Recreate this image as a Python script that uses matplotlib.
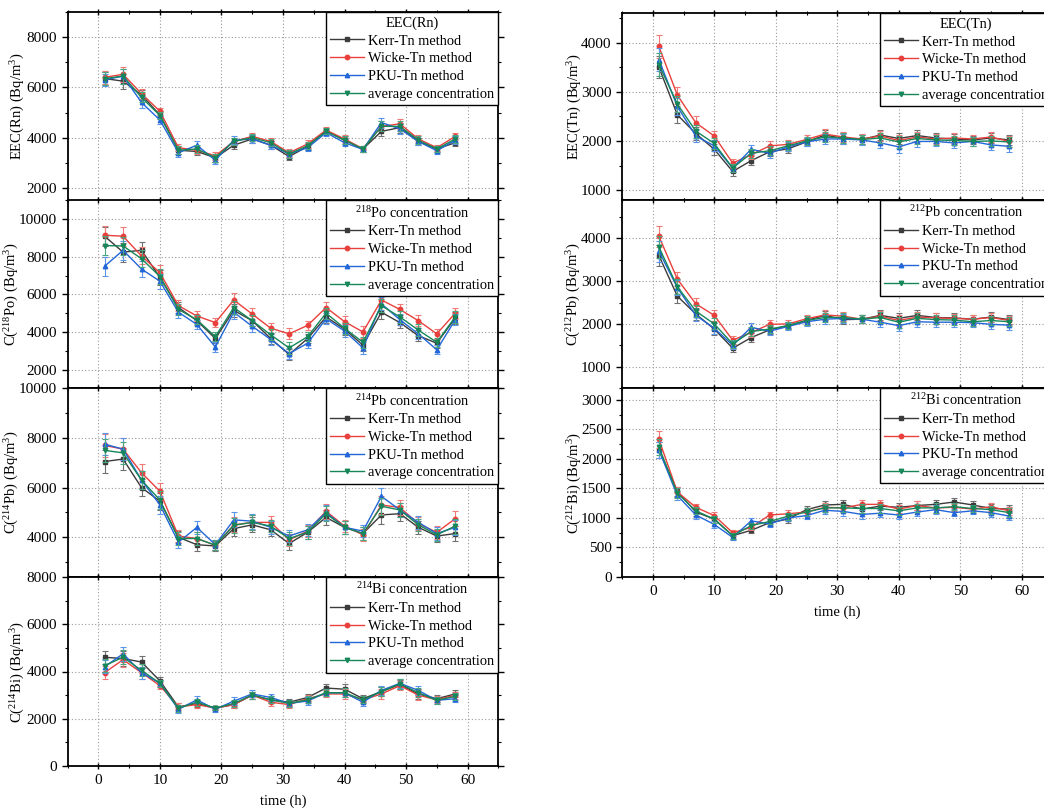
import matplotlib
matplotlib.use('Agg')
import matplotlib.pyplot as plt
from matplotlib.ticker import MultipleLocator

plt.rcParams['font.family'] = ['Liberation Serif', 'DejaVu Serif']
plt.rcParams['mathtext.fontset'] = 'custom'
plt.rcParams['mathtext.rm'] = 'Liberation Serif'
plt.rcParams['mathtext.it'] = 'Liberation Serif:italic'
plt.rcParams['mathtext.bf'] = 'Liberation Serif:bold'

# ---------------- data ----------------
time_h = [1, 4, 7, 10, 13, 16, 19, 22, 25, 28, 31, 34, 37, 40, 43, 46, 49, 52, 55, 58]
method_labels = ["Kerr-Tn method", "Wicke-Tn method", "PKU-Tn method", "average concentration"]

# EEC(Rn)
eec_rn_kerr = [6350, 6250, 5700, 4900, 3500, 3450, 3200, 3700, 3950, 3700, 3250, 3650, 4280, 3900, 3550, 4250, 4400, 3850, 3550, 3800]
eec_rn_wicke = [6400, 6520, 5750, 5050, 3600, 3500, 3280, 3850, 4050, 3850, 3400, 3750, 4300, 3950, 3560, 4450, 4550, 3950, 3600, 4050]
eec_rn_pku = [6300, 6450, 5400, 4700, 3400, 3700, 3100, 3900, 3950, 3700, 3350, 3600, 4200, 3800, 3530, 4600, 4350, 3850, 3480, 3900]
eec_rn_avg = [6350, 6450, 5600, 4880, 3500, 3550, 3200, 3850, 4000, 3800, 3350, 3680, 4250, 3900, 3550, 4450, 4450, 3900, 3550, 3950]
eec_rn_err = [250, 300, 200, 150, 150, 150, 150, 150, 150, 150, 150, 150, 120, 150, 120, 200, 200, 150, 120, 150]

# 218Po
po218_kerr = [9100, 8250, 8350, 6900, 5300, 4600, 3650, 5150, 4600, 3650, 2800, 3650, 4800, 4150, 3300, 5050, 4500, 3800, 3400, 4750]
po218_wicke = [9150, 9100, 8050, 7150, 5400, 4850, 4500, 5700, 4950, 4200, 3900, 4350, 5300, 4550, 4000, 5700, 5200, 4600, 3900, 5000]
po218_pku = [7500, 8350, 7350, 6700, 5050, 4400, 3200, 5050, 4300, 3600, 2850, 3400, 4700, 4050, 3150, 5500, 4650, 3900, 3050, 4650]
po218_avg = [8600, 8580, 7900, 6950, 5200, 4650, 3750, 5300, 4600, 3850, 3150, 3750, 5000, 4200, 3450, 5400, 4800, 4100, 3450, 4800]
po218_err = [500, 500, 450, 400, 300, 250, 250, 350, 300, 300, 300, 250, 300, 300, 300, 350, 300, 300, 250, 300]

# 214Pb
pb214_kerr = [7050, 7150, 6000, 5450, 4000, 3700, 3650, 4350, 4500, 4300, 3750, 4200, 4800, 4400, 4150, 4900, 4950, 4400, 4050, 4150]
pb214_wicke = [7700, 7550, 6600, 5850, 4050, 3950, 3680, 4500, 4600, 4600, 3900, 4250, 5050, 4450, 4100, 5300, 5200, 4550, 4200, 4750]
pb214_pku = [7750, 7550, 6300, 5300, 3800, 4400, 3700, 4700, 4650, 4400, 4050, 4300, 5000, 4400, 4250, 5650, 5100, 4600, 4150, 4400]
pb214_avg = [7500, 7400, 6300, 5500, 3950, 3950, 3680, 4480, 4600, 4450, 3950, 4200, 4950, 4400, 4150, 5250, 5100, 4500, 4100, 4450]
pb214_err = [450, 450, 350, 350, 250, 250, 200, 300, 300, 250, 250, 250, 300, 250, 250, 350, 300, 250, 250, 300]

# 214Bi
bi214_kerr = [4600, 4550, 4400, 3600, 2500, 2650, 2450, 2600, 3000, 2800, 2700, 2900, 3300, 3250, 2850, 3150, 3450, 3050, 2850, 3050]
bi214_wicke = [3950, 4500, 3950, 3400, 2500, 2600, 2450, 2600, 3000, 2700, 2600, 2850, 3050, 3050, 2800, 3050, 3400, 3000, 2800, 3000]
bi214_pku = [4200, 4750, 3950, 3500, 2400, 2800, 2400, 2750, 3050, 2900, 2650, 2750, 3100, 3100, 2700, 3200, 3500, 3200, 2780, 2850]
bi214_avg = [4250, 4600, 4050, 3500, 2450, 2700, 2450, 2650, 3000, 2800, 2650, 2800, 3100, 3100, 2800, 3150, 3480, 3100, 2780, 2950]
bi214_err = [280, 300, 250, 150, 150, 150, 100, 150, 150, 150, 150, 150, 150, 200, 150, 200, 200, 200, 150, 150]

# EEC(Tn)
eec_tn_kerr = [3500, 2530, 2150, 1830, 1380, 1600, 1780, 1840, 1980, 2120, 2050, 2030, 2120, 2050, 2110, 2060, 2040, 2020, 2060, 2020]
eec_tn_wicke = [3920, 2930, 2370, 2100, 1550, 1720, 1900, 1930, 2030, 2140, 2080, 2040, 2100, 2010, 2080, 2040, 2060, 2040, 2080, 1990]
eec_tn_pku = [3650, 2700, 2100, 1900, 1450, 1830, 1750, 1880, 1980, 2040, 2040, 2020, 1960, 1880, 1990, 1990, 1960, 1990, 1920, 1890]
eec_tn_avg = [3550, 2750, 2200, 1950, 1450, 1750, 1800, 1900, 2000, 2080, 2060, 2030, 2060, 1980, 2050, 2020, 2010, 1990, 2000, 1980]
eec_tn_err = [230, 170, 130, 110, 90, 90, 90, 90, 90, 100, 110, 100, 110, 120, 110, 100, 100, 90, 110, 110]

# 212Pb
pb212_kerr = [3600, 2650, 2230, 1880, 1430, 1680, 1860, 1960, 2080, 2200, 2100, 2110, 2200, 2130, 2200, 2150, 2140, 2110, 2160, 2100]
pb212_wicke = [4050, 3050, 2470, 2200, 1620, 1800, 1990, 2000, 2120, 2210, 2180, 2110, 2180, 2080, 2160, 2140, 2130, 2110, 2150, 2080]
pb212_pku = [3700, 2850, 2200, 1900, 1500, 1920, 1830, 1940, 2050, 2110, 2130, 2110, 2040, 1960, 2050, 2040, 2040, 2030, 1990, 1970]
pb212_avg = [3800, 2870, 2300, 2000, 1530, 1820, 1880, 1960, 2080, 2150, 2150, 2110, 2150, 2040, 2130, 2100, 2090, 2050, 2080, 2050]
pb212_err = [250, 170, 140, 130, 90, 100, 100, 90, 100, 110, 110, 100, 120, 130, 120, 110, 110, 100, 110, 110]

# 212Bi
bi212_kerr = [2150, 1450, 1100, 980, 700, 790, 920, 980, 1140, 1220, 1230, 1150, 1200, 1180, 1210, 1230, 1270, 1220, 1160, 1150]
bi212_wicke = [2330, 1440, 1180, 1040, 750, 840, 1050, 1070, 1100, 1180, 1170, 1230, 1230, 1150, 1210, 1170, 1180, 1150, 1190, 1120]
bi212_pku = [2150, 1380, 1050, 890, 670, 950, 900, 1000, 1040, 1130, 1110, 1060, 1080, 1050, 1100, 1140, 1090, 1120, 1090, 1030]
bi212_avg = [2200, 1420, 1120, 980, 700, 870, 940, 1030, 1100, 1170, 1170, 1160, 1160, 1120, 1170, 1170, 1190, 1160, 1140, 1090]
bi212_err = [140, 80, 60, 60, 50, 50, 50, 60, 60, 70, 70, 70, 70, 70, 70, 80, 60, 60, 70, 70]

# ---------------- styles ----------------
line_colors = ['#3b3b3b', '#e8403c', '#2266d8', '#17875a']
err_colors = ['#707070', '#f07a76', '#5a95ea', '#4aa67f']
markers = ['s', 'o', '^', 'v']

fig = plt.figure(figsize=(10.44, 8.10), dpi=100)

W, H = 1044.0, 810.0

def make_ax(left_px, right_px, top_px, bottom_px):
    return fig.add_axes([left_px / W, 1 - bottom_px / H, (right_px - left_px) / W, (bottom_px - top_px) / H])

panels = [
    # left column
    dict(box=(67.7, 498.3, 12.0, 200.5), series=[eec_rn_kerr, eec_rn_wicke, eec_rn_pku, eec_rn_avg], err=eec_rn_err,
         ylim=(1500, 9000), major=2000, minor=1000, title='EEC(Rn)', ylabel='EEC(Rn) (Bq/m$^3$)', bottom=False, lx=-0.095),
    dict(box=(67.7, 498.3, 200.5, 388.3), series=[po218_kerr, po218_wicke, po218_pku, po218_avg], err=po218_err,
         ylim=(1000, 11000), major=2000, minor=1000, title='$^{218}$Po concentration', ylabel='C($^{218}$Po) (Bq/m$^3$)', bottom=False, lx=-0.108),
    dict(box=(67.7, 498.3, 388.3, 577.0), series=[pb214_kerr, pb214_wicke, pb214_pku, pb214_avg], err=pb214_err,
         ylim=(2400, 10000), major=2000, minor=1000, title='$^{214}$Pb concentration', ylabel='C($^{214}$Pb) (Bq/m$^3$)', bottom=False, lx=-0.108),
    dict(box=(67.7, 498.3, 577.0, 766.0), series=[bi214_kerr, bi214_wicke, bi214_pku, bi214_avg], err=bi214_err,
         ylim=(0, 8000), major=2000, minor=1000, title='$^{214}$Bi concentration', ylabel='C($^{214}$Bi) (Bq/m$^3$)', bottom=True, lx=-0.095),
    # right column
    dict(box=(622.0, 1052.5, 13.0, 200.0), series=[eec_tn_kerr, eec_tn_wicke, eec_tn_pku, eec_tn_avg], err=eec_tn_err,
         ylim=(800, 4600), major=1000, minor=500, title='EEC(Tn)', ylabel='EEC(Tn) (Bq/m$^3$)', bottom=False, lx=-0.088),
    dict(box=(622.0, 1052.5, 200.0, 388.0), series=[pb212_kerr, pb212_wicke, pb212_pku, pb212_avg], err=pb212_err,
         ylim=(500, 4900), major=1000, minor=500, title='$^{212}$Pb concentration', ylabel='C($^{212}$Pb) (Bq/m$^3$)', bottom=False, lx=-0.09),
    dict(box=(622.0, 1052.5, 388.0, 577.0), series=[bi212_kerr, bi212_wicke, bi212_pku, bi212_avg], err=bi212_err,
         ylim=(0, 3200), major=500, minor=250, title='$^{212}$Bi concentration', ylabel='C($^{212}$Bi) (Bq/m$^3$)', bottom=True, lx=-0.088),
]

for p in panels:
    ax = make_ax(*p['box'])
    handles = []
    for i, vals in enumerate(p['series']):
        ax.errorbar(time_h, vals, yerr=p['err'], fmt='none', ecolor=err_colors[i],
                    elinewidth=0.8, capsize=2.2, capthick=0.8, zorder=3 + i * 0.1)
        ln, = ax.plot(time_h, vals, color=line_colors[i], marker=markers[i], markersize=3.2,
                      linewidth=1.0, label=method_labels[i], zorder=3.05 + i * 0.1)
        handles.append(ln)
    ax.set_xlim(-5, 65)
    ax.set_ylim(*p['ylim'])
    ax.xaxis.set_major_locator(MultipleLocator(10))
    ax.xaxis.set_minor_locator(MultipleLocator(5))
    ax.yaxis.set_major_locator(MultipleLocator(p['major']))
    ax.yaxis.set_minor_locator(MultipleLocator(p['minor']))
    ax.grid(True, which='major', linestyle=(0, (1, 2)), color='#9a9a9a', linewidth=0.8)
    ax.set_axisbelow(True)
    ax.tick_params(axis='y', which='both', direction='out', left=True, right=True, labelsize=11)
    ax.tick_params(axis='x', which='both', direction='inout', bottom=True, top=True, labelsize=11)
    ax.tick_params(which='major', length=4, width=1)
    ax.tick_params(which='minor', length=2.5, width=0.8)
    for s in ax.spines.values():
        s.set_linewidth(1.3)
    if not p['bottom']:
        ax.tick_params(axis='x', labelbottom=False)
    else:
        ax.set_xlabel('time (h)', fontsize=10.5, labelpad=6)
    ax.set_ylabel(p['ylabel'], fontsize=10.5)
    ax.yaxis.set_label_coords(p['lx'], 0.5)
    leg = ax.legend(handles=handles, loc='upper right', title=p['title'], fontsize=10.4, title_fontsize=10.4,
                    frameon=True, fancybox=False, framealpha=1, edgecolor='black',
                    borderaxespad=0.0, borderpad=0.3, labelspacing=0.32, handlelength=2.3,
                    handletextpad=0.3)
    leg.get_frame().set_linewidth(1.0)

fig.savefig('out.png', dpi=100)
